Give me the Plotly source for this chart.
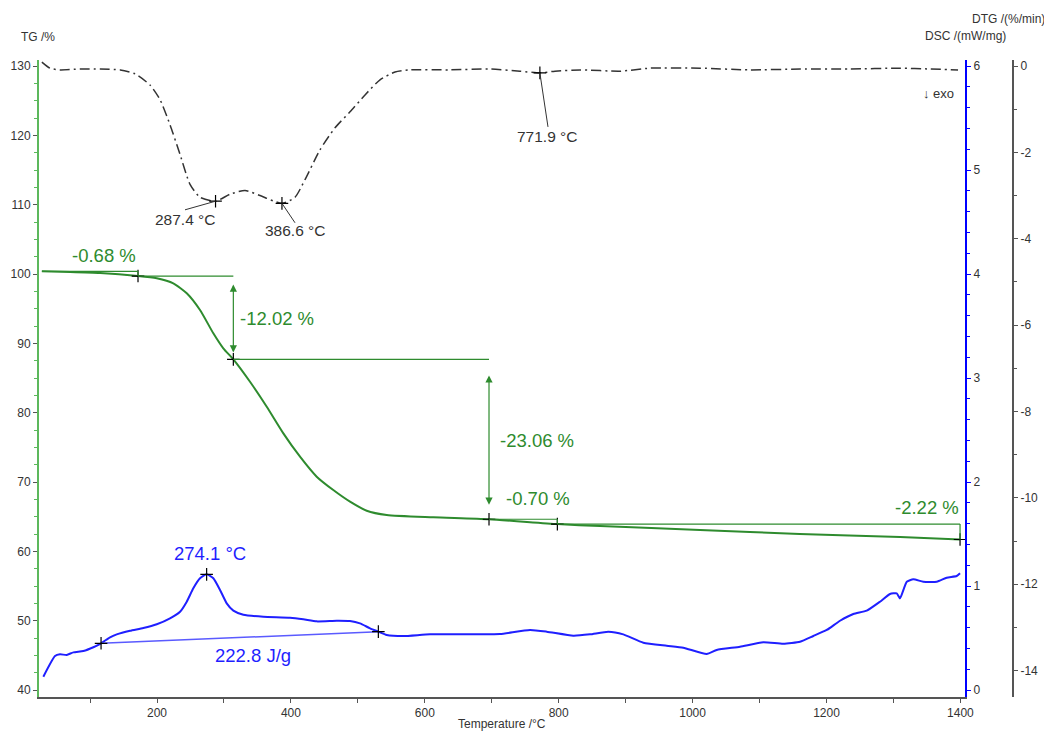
import plotly.graph_objects as go

# ---------------- data ----------------
tg_temp = [28, 70, 115, 171.6, 199.6, 224.3, 244.4, 264.2, 284.1, 299.0, 314.0, 338.9, 363.9,
           388.7, 413.6, 438.5, 463.3, 488.3, 513.2, 543.1, 612.7, 695.9, 798.0, 861.7,
           1011, 1160, 1310, 1399.5]
tg_mass = [100.39, 100.29, 100.14, 99.71, 99.38, 98.66, 97.22, 94.81, 91.45, 89.28, 87.69, 84.46,
           80.86, 77.02, 73.65, 70.77, 68.84, 67.16, 65.86, 65.24, 64.91, 64.63, 63.93, 63.65,
           63.07, 62.50, 62.06, 61.71]

dsc_temp = [30.2, 47.6, 55.1, 65.1, 75.0, 89.9, 104.9, 116.4, 129.8, 139.8, 159.7, 179.5, 199.6,
            219.4, 234.4, 244.4, 254.2, 264.2, 274.1, 284.1, 294.1, 304.1, 314.0, 328.9, 358.8,
            398.7, 418.5, 438.5, 468.4, 488.3, 503.2, 518.2, 530.6, 543.1, 567.9, 607.8, 682.5,
            712.3, 757.1, 782.1, 821.8, 846.8, 874.1, 896.5, 926.4, 961.3, 986.1, 1021.1, 1036.0,
            1070.8, 1105.6, 1135.5, 1160.5, 1180.3, 1200.3, 1220.2, 1240.1, 1260.1, 1279.9,
            1294.9, 1304.9, 1309.8, 1319.9, 1329.7, 1344.6, 1364.7, 1379.6, 1394.5, 1399.5]
dsc_val = [0.128, 0.327, 0.343, 0.337, 0.362, 0.375, 0.411, 0.449, 0.507, 0.535, 0.570, 0.596,
           0.632, 0.689, 0.753, 0.849, 0.978, 1.074, 1.112, 1.074, 0.962, 0.833, 0.763, 0.724,
           0.705, 0.695, 0.680, 0.660, 0.666, 0.663, 0.641, 0.593, 0.561, 0.529, 0.519, 0.535,
           0.535, 0.538, 0.577, 0.561, 0.522, 0.535, 0.561, 0.535, 0.455, 0.426, 0.407, 0.346,
           0.385, 0.416, 0.459, 0.445, 0.464, 0.519, 0.577, 0.666, 0.731, 0.763, 0.849, 0.923,
           0.930, 0.881, 1.041, 1.064, 1.041, 1.041, 1.080, 1.096, 1.122]

dtg_temp = [28, 40, 55, 85, 115, 145, 167, 189.5, 204.5, 219.4, 234.4, 249.3, 264.2, 287.4, 309.0,
            331.4, 353.9, 386.6, 406.1, 421.1, 443.5, 465.9, 488.3, 510.7, 533.1, 555.5, 577.9,
            637.7, 697.4, 742.2, 771.9, 794.5, 831.8, 891.6, 936.4, 1011.1, 1086.5, 1160.5,
            1235.1, 1309.8, 1354.6, 1396.5]
dtg_val = [0.09, -0.05, -0.09, -0.07, -0.07, -0.09, -0.18, -0.44, -0.78, -1.36, -2.05, -2.74,
           -3.04, -3.13, -2.97, -2.88, -3.00, -3.18, -3.04, -2.63, -1.94, -1.43, -1.06, -0.67,
           -0.32, -0.14, -0.09, -0.09, -0.07, -0.12, -0.16, -0.12, -0.09, -0.12, -0.05, -0.05,
           -0.09, -0.07, -0.07, -0.05, -0.07, -0.09]

# TG step analysis
step_temp = [28, 171.6, 314.0, 695.9, 798.0, 1399.5]
step_level = [100.39, 99.71, 87.69, 64.63, 63.93, 61.71]
step_labels = ["-0.68 %", "-12.02 %", "-23.06 %", "-0.70 %", "-2.22 %"]
step_label_pos = [(120.8, 102.7), (379.2, 93.65), (767.6, 76.06), (769.1, 67.69), (1350, 66.39)]

# DSC peak / integration
dsc_peak_temp, dsc_peak_val, dsc_peak_label = 274.1, 1.112, "274.1 °C"
dsc_int_temp = [116.4, 530.6]
dsc_int_val = [0.449, 0.561]
dsc_int_label = "222.8 J/g"

# DTG peaks
dtg_peak_temp = [287.4, 386.6, 771.9]
dtg_peak_val = [-3.13, -3.18, -0.16]
dtg_peak_labels = ["287.4 °C", "386.6 °C", "771.9 °C"]
dtg_label_pos = [(241.8, -3.56), (406.1, -3.82), (784.0, -1.64)]
dtg_leader_end = [(241.8, -3.33), (406.1, -3.63), (784.0, -1.41)]

x_ticks = [200, 400, 600, 800, 1000, 1200, 1400]
tg_ticks = [40, 50, 60, 70, 80, 90, 100, 110, 120, 130]
dsc_ticks = [0, 1, 2, 3, 4, 5, 6]
dtg_ticks = [0, -2, -4, -6, -8, -10, -12, -14]

# ---------------- styles ----------------
GREEN = "#2e8b2e"
GREEN_AX = "#5cb85c"
BLUE = "#1f1fff"
DARK = "#333333"
FONT = "Arial, Liberation Sans, sans-serif"

fig = go.Figure()

fig.add_trace(go.Scatter(x=tg_temp, y=tg_mass, mode="lines", line=dict(color=GREEN, width=2, shape="spline", smoothing=0.6),
                         yaxis="y", hoverinfo="skip"))
fig.add_trace(go.Scatter(x=dsc_temp, y=dsc_val, mode="lines", line=dict(color=BLUE, width=2, shape="spline", smoothing=0.5),
                         yaxis="y2", hoverinfo="skip"))
fig.add_trace(go.Scatter(x=dsc_int_temp, y=dsc_int_val, mode="lines", line=dict(color="#5a5aff", width=1.5),
                         yaxis="y2", hoverinfo="skip"))
fig.add_trace(go.Scatter(x=dtg_temp, y=dtg_val, mode="lines",
                         line=dict(color=DARK, width=1.5, dash="10px,4px,2px,4px", shape="spline", smoothing=0.6),
                         yaxis="y3", hoverinfo="skip"))

cross = dict(symbol="cross-thin", size=9, line=dict(color="black", width=1.2), color="black")
fig.add_trace(go.Scatter(x=step_temp[1:], y=step_level[1:], mode="markers", marker=cross, yaxis="y", hoverinfo="skip"))
fig.add_trace(go.Scatter(x=dsc_int_temp + [dsc_peak_temp], y=dsc_int_val + [dsc_peak_val], mode="markers",
                         marker=cross, yaxis="y2", hoverinfo="skip"))
fig.add_trace(go.Scatter(x=dtg_peak_temp, y=dtg_peak_val, mode="markers", marker=cross, yaxis="y3", hoverinfo="skip"))

shapes = []
annotations = []
line_g = dict(color=GREEN, width=1.2)


def hline(x0, x1, y):
    shapes.append(dict(type="line", xref="x", yref="y", x0=x0, x1=x1, y0=y, y1=y, line=line_g))


def vline(x, y0, y1):
    shapes.append(dict(type="line", xref="x", yref="y", x0=x, x1=x, y0=y0, y1=y1, line=line_g))


# step 1
hline(step_temp[0], step_temp[1], step_level[0])
vline(step_temp[1], step_level[0], step_level[1])
# reference lines for steps 2 / 3
hline(step_temp[1], step_temp[2], step_level[1])
hline(step_temp[2], step_temp[3], step_level[2])
# step 4
hline(step_temp[3], step_temp[4], step_level[3])
vline(step_temp[4], step_level[3], step_level[4])
# step 5
hline(step_temp[4], step_temp[5], step_level[4])
vline(step_temp[5], step_level[4], step_level[5])

# double arrows for the big steps
for i, gap in ((1, 1.0), (2, 2.1)):
    top = step_level[i] - gap
    bot = step_level[i + 1] + gap
    annotations.append(dict(x=step_temp[i + 1], y=bot, ax=step_temp[i + 1], ay=top, xref="x", yref="y",
                            axref="x", ayref="y", text="", showarrow=True, arrowhead=2, arrowside="end+start",
                            arrowsize=1.2, arrowwidth=1.2, arrowcolor=GREEN))

for lab, (tx, ty) in zip(step_labels, step_label_pos):
    annotations.append(dict(x=tx, y=ty, xref="x", yref="y", text=lab, showarrow=False,
                            font=dict(family=FONT, size=18.5, color=GREEN)))

annotations.append(dict(x=279.2, y=1.308, xref="x", yref="y2", text=dsc_peak_label, showarrow=False,
                        font=dict(family=FONT, size=18.5, color=BLUE)))
annotations.append(dict(x=343.4, y=0.327, xref="x", yref="y2", text=dsc_int_label, showarrow=False,
                        font=dict(family=FONT, size=18.5, color=BLUE)))

for (px, py), (lx, ly), (tx, ty), lab in zip(zip(dtg_peak_temp, dtg_peak_val), dtg_leader_end, dtg_label_pos, dtg_peak_labels):
    shapes.append(dict(type="line", xref="x", yref="y3", x0=px, y0=py, x1=lx, y1=ly, line=dict(color=DARK, width=1)))
    annotations.append(dict(x=tx, y=ty, xref="x", yref="y3", text=lab, showarrow=False,
                            font=dict(family=FONT, size=15.5, color=DARK)))


# axis titles / labels (paper coords; plot area spans page px 39..1013 x 60..697)
def px2paper(px, py):
    return (px - 39) / 974.0, (697 - py) / 637.0


for txt, (px, py), anchor, fs in [("TG /%", (38, 37), "center", 12), ("DSC /(mW/mg)", (1008, 36), "right", 12),
                                  ("DTG /(%/min)", (1047, 19), "right", 12), ("Temperature /°C", (502, 724), "center", 12),
                                  ("↓ exo", (938, 93), "center", 13)]:
    xp, yp = px2paper(px, py)
    annotations.append(dict(x=xp, y=yp, xref="paper", yref="paper", text=txt, showarrow=False,
                            xanchor=anchor, yanchor="middle", font=dict(family=FONT, size=fs, color=DARK)))

tickfont = dict(family=FONT, size=12, color=DARK)
# the page body has an 8px margin, so the figure is 8px smaller than the window
fig.update_layout(
    width=1044, height=725,
    margin=dict(l=31, r=39, t=52, b=36, autoexpand=False),
    paper_bgcolor="white", plot_bgcolor="white",
    showlegend=False,
    font=dict(family=FONT, color=DARK),
    shapes=shapes, annotations=annotations,
    xaxis=dict(domain=[0, 926 / 974.0], range=[23.7, 1406.9], tickvals=x_ticks, showgrid=False, zeroline=False,
               automargin=False,
               showline=True, linecolor="#555555", linewidth=2, ticks="outside", ticklen=4, tickcolor="#555555",
               tickfont=tickfont, minor=dict(dtick=100, tick0=0, ticks="outside", ticklen=4, tickcolor="#555555")),
    yaxis=dict(range=[38.99, 130.87], tickvals=tg_ticks, showgrid=False, zeroline=False, automargin=False,
               showline=True, linecolor=GREEN_AX, linewidth=2, ticks="outside", ticklen=4, tickcolor="#555555",
               tickfont=tickfont, minor=dict(dtick=2.5, tick0=0, ticks="outside", ticklen=3, tickcolor=GREEN_AX)),
    yaxis2=dict(range=[-0.0673, 6.0577], tickvals=dsc_ticks, overlaying="y", side="right", anchor="x",
                showgrid=False, zeroline=False, showline=True, linecolor="#0000ff", linewidth=2, automargin=False,
                ticks="outside", ticklen=4, tickcolor="#0000ff", tickfont=tickfont,
                minor=dict(dtick=0.2, tick0=0, ticks="outside", ticklen=3, tickcolor="#0000ff")),
    yaxis3=dict(range=[-14.61, 0.139], tickvals=dtg_ticks, ticktext=[str(v) for v in dtg_ticks],
                overlaying="y", side="right", anchor="free", position=1.0, automargin=False,
                showgrid=False, zeroline=False, showline=True, linecolor="#555555", linewidth=2,
                ticks="outside", ticklen=4, tickcolor="#555555", tickfont=tickfont,
                minor=dict(dtick=1, tick0=0, ticks="outside", ticklen=3, tickcolor="#555555")),
)

fig.write_html("out.html")
